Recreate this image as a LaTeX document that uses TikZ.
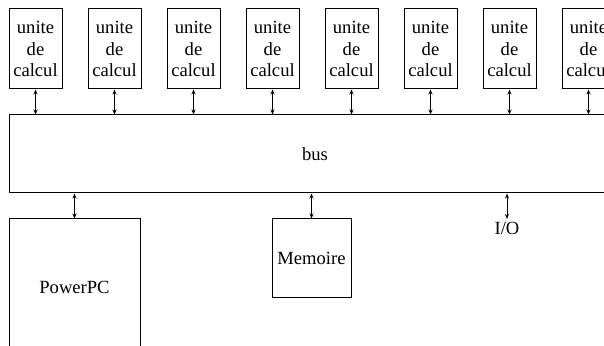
\documentclass[tikz,border=0pt]{standalone}
\usepackage{fontspec}
\setmainfont{Liberation Serif}
\usetikzlibrary{arrows.meta}
\tikzset{bloc/.style = {draw, line width=0.5pt, inner sep=0pt,
                        font=\fontsize{9.3}{10.8}\selectfont}}
\tikzset{unite/.style = {bloc, minimum width=26.5pt, minimum height=40pt, align=center}}
\tikzset{liaison/.style = {{Stealth[length=2.5pt, width=2pt]}-{Stealth[length=2.5pt, width=2pt]},
                           line width=0.4pt}}

\begin{document}
\begin{tikzpicture}[x=0.5pt, y=-0.5pt]
    \useasboundingbox (0, 0) rectangle (604, 346);
    \clip (0, 0) rectangle (604, 346);

    \node [bloc, minimum width=306pt, minimum height=39pt] (bus) at (315, 154) {bus};

    \foreach \i in {0,...,7} {
        \node [unite] (u\i) at (35.5 + 79 * \i, 49) {unite\\de\\calcul};
        \draw [liaison] (u\i.south) -- (u\i.south |- bus.north);
    }

    \node [bloc, minimum width=65.5pt, minimum height=68.5pt] (ppc) at (74.5, 287.5) {PowerPC};
    \node [bloc, minimum width=39.5pt, minimum height=39.5pt] (mem) at (311.5, 258.5) {Memoire};
    \node [inner sep=1.5pt, anchor=north, font=\fontsize{9.3}{10.8}\selectfont] (io) at (507, 219) {I/O};

    \draw [liaison] (ppc.north) -- (ppc.north |- bus.south);
    \draw [liaison] (mem.north) -- (mem.north |- bus.south);
    \draw [liaison] (io.north) -- (io.north |- bus.south);
\end{tikzpicture}
\end{document}
